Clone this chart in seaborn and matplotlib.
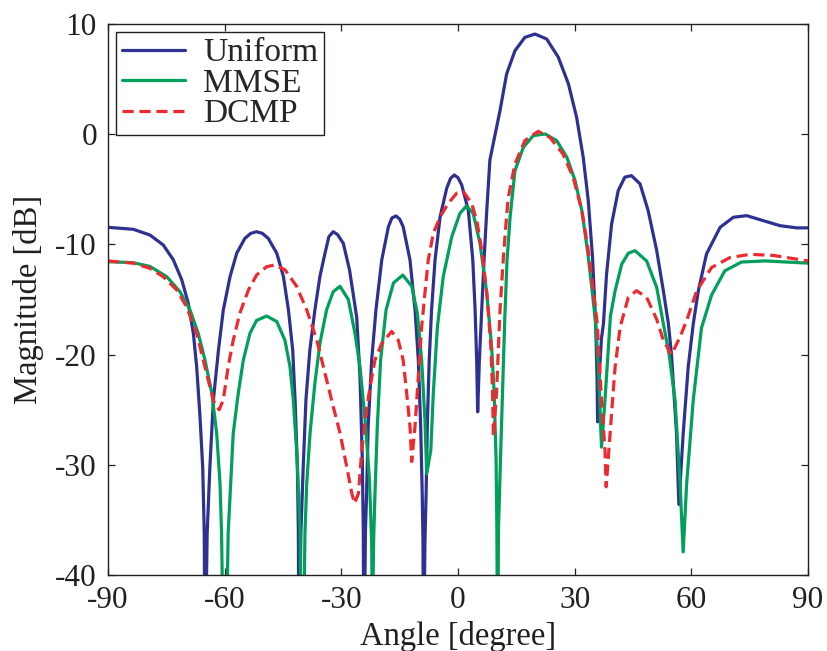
import numpy as np
import pandas as pd
import matplotlib
matplotlib.use("Agg")
import matplotlib.pyplot as plt
import seaborn as sns

# values (angle in degree, magnitude in dB)
uniform_ang = [-90, -83.5, -79.2, -75.8, -73.2, -71.05, -69.35, -68.05, -67.2, -66.35, -65.65, -65.25, -65.06,
               -64.5, -63.8, -62.9, -61.6, -60.35, -58.6, -56.9, -54.8, -53.3, -51.8, -50.3, -48.8, -46.6,
               -44.9, -43.6, -42.5, -41.9, -41.3, -41.05, -40.9,
               -40.4, -39.8, -39.1, -38.1, -36.8, -35.5, -34.2, -33.2, -32.1, -31.0, -29.5, -27.9, -26.05,
               -25.2, -24.6, -24.35, -24.2,
               -23.8, -23.5, -23.1, -22.2, -21.1, -19.6, -17.9, -17.0, -15.95, -15.0, -14.1, -12.35, -11.05,
               -10.2, -9.6, -9.2, -9.0, -8.9,
               -8.5, -8.2, -7.9, -7.4, -6.8, -5.9, -4.6, -2.9, -1.9, -0.95, 0.0, 0.95, 2.65, 3.8, 4.4, 4.8, 5.06,
               5.5, 6.1, 6.7, 7.4, 8.2, 10.8, 12.5, 14.65, 17.2, 19.8, 22.8, 25.8, 28.4, 30.5, 32.2, 33.5,
               34.6, 35.4, 35.75, 35.9,
               36.3, 36.9, 37.4, 38.2, 39.5, 41.2, 42.9, 44.6, 46.8, 48.9, 51.1, 52.8, 54.1, 54.9, 56.2, 56.8,
               57.9, 59.2, 60.5, 61.8, 63.9, 67.4, 70.8, 74.2, 78.5, 82.8, 87.1, 90]
uniform_db = [-8.45, -8.63, -9.15, -10.05, -11.4, -13.2, -15.35, -18.07, -21.1, -25.6, -30.2, -36.2, -50,
              -36.2, -30.2, -24.1, -19.6, -15.95, -12.9, -10.8, -9.45, -9.0, -8.85, -9.0, -9.45, -10.8,
              -12.9, -15.95, -19.6, -24.1, -30.2, -36, -50,
              -36.2, -30.2, -24.1, -19.6, -15.95, -12.9, -10.8, -9.3, -8.85, -9.1, -9.9, -12.3, -16.6,
              -22.0, -29.6, -36, -50,
              -36, -32.6, -26.5, -20.5, -15.95, -11.4, -8.4, -7.6, -7.42, -7.7, -8.4, -11.4, -15.95,
              -20.5, -26.5, -32.6, -37, -50,
              -37, -32.6, -26.5, -20.5, -15.95, -11.4, -7.49, -4.9, -4.0, -3.7, -3.95, -4.6, -6.9, -11.4, -15.95, -20.5, -25.2,
              -20.5, -15.95, -11.4, -6.9, -2.34, 2.14, 5.46, 7.58, 8.79, 9.09, 8.64, 6.98, 4.56, 1.53, -2.1, -6.03,
              -11.2, -17.2, -22, -26.1,
              -22, -18.5, -17.2, -12.7, -8.15, -5.12, -3.9, -3.76, -4.5, -6.94, -10.57, -14.2, -17.2, -20, -27.2, -33.6,
              -27.2, -21.1, -17.2, -14.2, -10.87, -8.45, -7.54, -7.39, -7.85, -8.3, -8.5, -8.5]

mmse_ang = [-90, -83.5, -79.2, -74.9, -71.5, -68.9, -66.8, -65.06, -63.3, -62.05, -61.2, -60.8, -60.0,
            -59.1, -58.45, -57.8, -56.5, -55.2, -53.5, -51.8, -49.2, -46.6, -44.5, -43.2, -42.35, -41.5,
            -40.9, -40.6, -40.1,
            -39.35, -38.9, -38.05, -36.8, -35.5, -33.8, -32.1, -30.35, -28.2, -26.5, -25.2, -23.9, -22.8,
            -22.2, -22.0,
            -21.7, -21.35, -20.75, -19.9, -18.5, -16.6, -14.2, -11.9, -10.45, -9.35, -8.5, -8.05,
            -7.0, -6.35, -5.3, -3.8, -1.6, 0.5, 2.2, 3.9, 5.65, 7.4, 8.65, 9.3, 9.8, 10.0, 10.2,
            10.4, 10.8, 11.4, 12.0, 12.6, 13.4, 14.65, 16.8, 19.35, 22.4, 25.4, 28.0, 30.1, 31.85, 33.3,
            34.5, 35.4, 36.1, 36.9,
            37.8, 39.2, 40.4, 42.1, 43.8, 45.5, 48.5, 51.1, 52.8, 54.3, 55.8, 57.1, 57.9,
            58.8, 60.5, 62.6, 65.2, 68.6, 72.9, 78.9, 90]
mmse_db = [-11.57, -11.66, -12.0, -12.93, -14.29, -15.95, -18.07, -20.49, -23.5, -27.15, -31.7, -36.2, -55,
           -36.2, -31.7, -27.15, -23.5, -20.5, -18.07, -16.9, -16.5, -17.0, -18.7, -21.1, -24.1, -28.7,
           -33.2, -36.2, -55,
           -36.2, -31.7, -27.15, -22.6, -18.97, -15.95, -14.3, -13.8, -15.0, -18.07, -21.1, -25.9, -31.1,
           -37, -45,
           -37, -32.6, -26.5, -20.5, -15.95, -13.5, -12.78, -13.8, -16.25, -20.5, -25.9, -30.8,
           -28.7, -23.5, -17.5, -12.93, -9.3, -7.18, -6.5, -7.18, -9.9, -14.4, -19.3, -23.5, -29.6, -36, -50,
           -36, -31, -24, -17, -11.5, -7.5, -3.31, -1.19, -0.13, 0.02, -0.59, -2.1, -4.2, -6.94, -10.57,
           -14.2, -17.2, -21.1, -28.4,
           -24.1, -16.5, -14.2, -11.8, -10.8, -10.57, -11.5, -13.9, -17.2, -20, -24.1, -31.7, -37.9,
           -31.7, -24.1, -17.6, -14.6, -12.4, -11.6, -11.5, -11.7]

dcmp_ang = [-90, -83.5, -79.2, -75.8, -72.3, -69.8, -67.2, -65.5, -63.8, -62.5, -61.4, -60.35, -59.1,
            -57.8, -56.1, -53.9, -51.8, -49.2, -47.1, -44.5, -41.5, -38.9, -36.3, -34.2, -32.1, -30.35,
            -28.6, -27.3, -26.6, -25.6, -24.8, -23.9, -22.6, -21.35, -19.6, -17.05, -15.35, -14.1, -13.2,
            -12.35, -11.9, -11.05, -10.2, -9.35, -8.5, -7.65, -6.35, -4.6, -2.5, -0.35, 1.35, 3.5, 4.8,
            6.1, 7.4, 8.4, 8.9, 9.1, 9.9, 10.8, 11.65, 12.3, 12.9, 14.65, 17.2, 20.6, 23.6, 27.0, 29.6,
            31.85, 33.5, 34.8, 35.8, 36.9, 37.8, 38.1, 39.1, 40.4, 41.7, 43.8, 45.9, 48.5, 51.1, 52.8,
            54.9, 57.1, 58.8, 61.4, 65.2, 69.9, 75.1, 81.1, 90]
dcmp_db = [-11.5, -11.7, -12.17, -12.93, -14.14, -15.65, -18.07, -20.5, -22.9, -24.6, -25.0, -24.1, -21.1,
           -18.7, -16.25, -14.14, -12.78, -12.02, -11.87, -12.3, -13.8, -15.95, -18.7, -21.7, -24.7, -27.1,
           -30.2, -32.6, -33.5, -32.6, -28.95, -25.9, -22.9, -20.5, -18.97, -17.9, -18.7, -20.5, -23.5,
           -26.5, -29.7, -26.5, -22.0, -17.5, -14.4, -11.4, -9.0, -7.5, -6.27, -5.36, -5.2, -6.27, -7.8,
           -10.5, -14.4, -18.97, -23.5, -27.45, -23.5, -16, -11.3, -8.3, -5.8, -2.7, -0.59, 0.26, -0.28, -1.8, -3.9,
           -6.94, -10.57, -14.2, -17.2, -24.1, -28.7, -32.0, -27.2, -21.1, -17.5, -14.8, -14.2, -14.8, -16.8, -18.7,
           -20.0, -18.4, -16.9, -14.2, -12.1, -11.2, -10.9, -11.0, -11.5]

uniform = pd.DataFrame({"angle": uniform_ang, "mag": uniform_db})
mmse = pd.DataFrame({"angle": mmse_ang, "mag": mmse_db})
dcmp = pd.DataFrame({"angle": dcmp_ang, "mag": dcmp_db})

sns.set_style("ticks")
plt.rcParams["font.family"] = ["Liberation Serif", "DejaVu Serif"]
plt.rcParams["axes.unicode_minus"] = False

fig = plt.figure(figsize=(8.27, 6.51), dpi=100)
ax = fig.add_axes([108 / 827, 1 - 575 / 651, 700 / 827, 551 / 651])

sns.lineplot(data=uniform, x="angle", y="mag", ax=ax, color="#2e3192", lw=2.3, label="Uniform")
sns.lineplot(data=mmse, x="angle", y="mag", ax=ax, color="#00a05a", lw=2.3, label="MMSE")
sns.lineplot(data=dcmp, x="angle", y="mag", ax=ax, color="#ee2a2e", lw=2.3, label="DCMP",
             linestyle=(0, (3.5, 1.8)))

ax.set_xlim(-90, 90)
ax.set_ylim(-40, 10)
ax.set_xticks(np.arange(-90, 91, 30))
ax.set_yticks(np.arange(-40, 11, 10))
ax.tick_params(direction="in", length=5, width=0.9, top=True, right=True,
               labelsize=22.5, colors="#231f20", pad=8)
for s in ax.spines.values():
    s.set_linewidth(1.0)
    s.set_color("#231f20")

ax.set_xlabel("Angle [degree]", fontsize=23.5, color="#231f20", labelpad=4)
ax.set_ylabel("Magnitude [dB]", fontsize=23.5, color="#231f20", labelpad=8)

leg = ax.legend(loc="upper left", fontsize=24, frameon=True, fancybox=False,
                edgecolor="#231f20", framealpha=1, handlelength=1.9, handletextpad=0.55,
                labelspacing=0.0, borderpad=0.17, borderaxespad=0.24)
leg.get_frame().set_linewidth(1.0)

fig.savefig("out.png", dpi=100)
